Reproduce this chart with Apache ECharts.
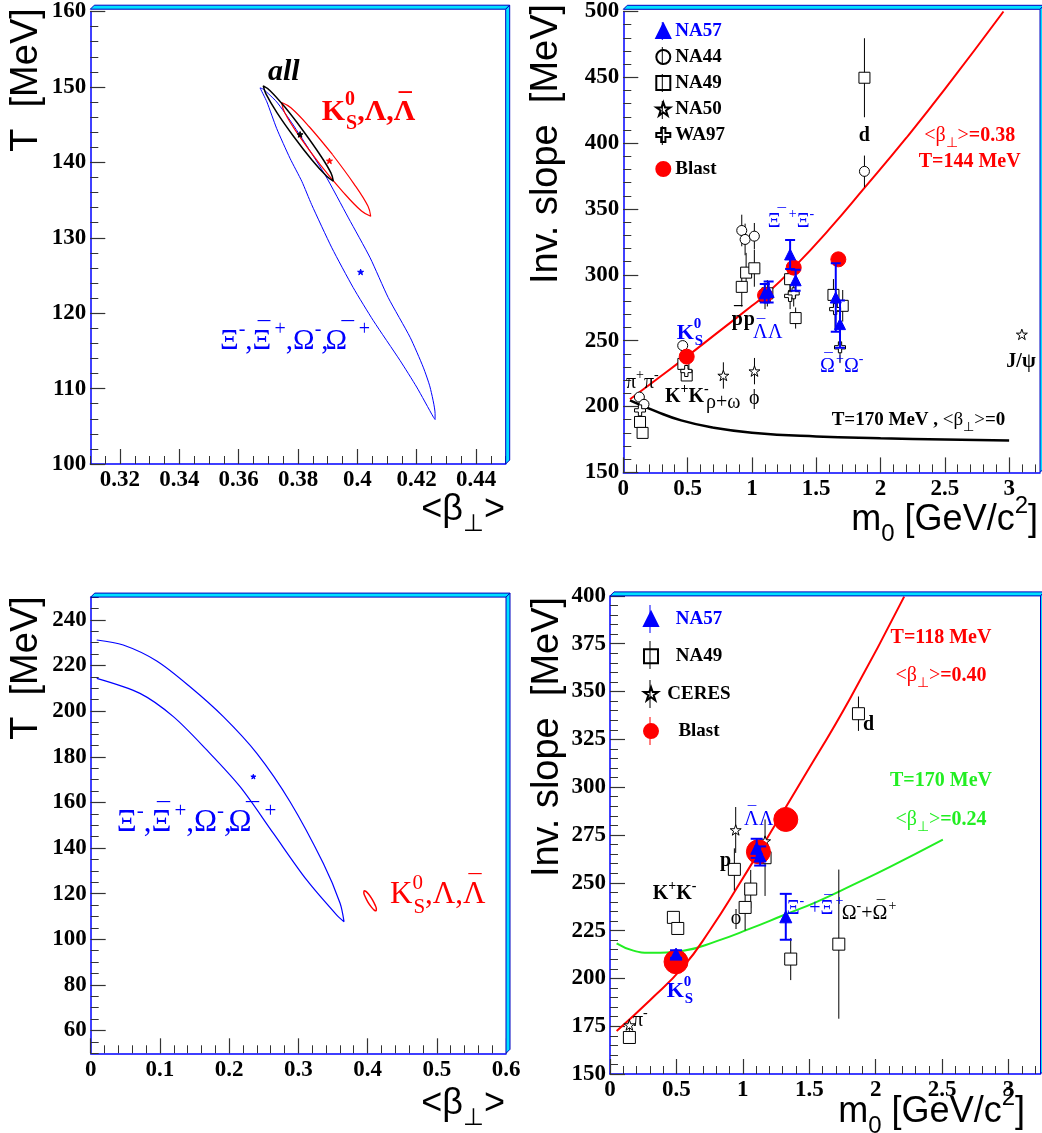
<!DOCTYPE html>
<html><head><meta charset="utf-8">
<script src="https://cdn.jsdelivr.net/npm/echarts@6/dist/echarts.min.js"></script>
<style>html,body{margin:0;padding:0;background:#fff}#c{width:1042px;height:1133px}</style>
</head><body><div id="c"></div>
<script>
// ================= DATA =================
// --- top-left panel: fit contours in (<beta_T>, T) ---
const tlContourAll = [[0.3816,144.26],[0.3755,147.36],[0.3706,149.5],[0.3683,150.13],[0.3692,149.08],[0.3729,146.6],[0.3786,143.4],[0.3847,140.32],[0.3896,138.18],[0.3919,137.5],[0.3911,138.6],[0.3873,141.07],[0.3816,144.26]];
const tlContourV0 = [[0.3916,141.04],[0.3838,144.72],[0.3776,147.24],[0.3745,147.93],[0.3755,146.6],[0.3802,143.6],[0.3874,139.74],[0.3952,136.06],[0.4014,133.54],[0.4045,132.85],[0.4036,134.18],[0.3988,137.18],[0.3916,141.04]];
const tlContourHyp = [[0.3672,149.87],[0.3695,148.02],[0.3728,144.5],[0.3773,140.54],[0.3813,137.47],[0.3846,134.39],[0.3914,128.67],[0.3986,123.39],[0.4054,119.0],[0.4144,113.72],[0.42,110.2],[0.4256,106.24],[0.4262,105.9],[0.4262,106.69],[0.4245,110.2],[0.4222,112.84],[0.4178,116.79],[0.4104,122.07],[0.4043,127.35],[0.397,132.63],[0.3891,138.35],[0.3784,144.95],[0.3728,148.02],[0.3683,149.7],[0.3672,149.87]];
const tlCentreAll = [[0.3807,143.7]];
const tlCentreV0 = [[0.3906,140.2]];
const tlCentreHyp = [[0.4011,125.46]];
// --- bottom-left panel ---
const blContourHyp = [[0.0087,231.2],[0.047,229],[0.0954,222],[0.1435,210.7],[0.1916,197.6],[0.24,181.5],[0.288,160.3],[0.336,133.3],[0.3603,115.8],[0.366,107.7],[0.3555,110.6],[0.312,126],[0.264,146.4],[0.2158,166.9],[0.1676,183],[0.1194,197.6],[0.0712,207.8],[0.0087,214.4]];
const blContourV0 = [[0.4067,117.5],[0.4019,119.6],[0.3976,121.0],[0.3949,121.3],[0.3946,120.4],[0.3966,118.6],[0.4005,116.3],[0.4053,114.2],[0.4096,112.8],[0.4123,112.5],[0.4127,113.3],[0.4106,115.2],[0.4067,117.5]];
const blCentreHyp = [[0.235,171.3]];
// --- top-right panel: [m0, inverse slope, error] ---
const trNA57 = [[1.10,286,7],[1.13,287,8],[1.297,315.5,11],[1.34,295.9,8],[1.652,282.8,26],[1.685,262.6,18]];
const trNA44 = [[0.125,207.2,3],[0.161,201.7,3],[0.462,246.3,3],[0.921,333.7,12],[0.947,326.9,12],[1.019,329.4,10],[1.875,378.6,12]];
const trNA49 = [[0.13,188.3,3],[0.15,180,3],[0.467,232.4,4],[0.493,223.6,4],[0.921,290.9,15],[0.955,301.7,15],[1.019,305,14],[1.102,284,10],[1.12,286,10],[1.297,296.7,10],[1.34,267.2,8],[1.634,284.8,12],[1.706,276.5,12],[1.875,449.7,30]];
const trNA50 = [[0.778,223.6,10],[1.02,226.9,10],[3.099,254.8,0]];
const trWA97 = [[0.13,197.1,3],[0.49,227,4],[1.297,284,10],[1.325,286,10],[1.647,274,15],[1.685,245,12]];
const trBlast = [[0.493,237.9],[1.102,284.5],[1.325,305.5],[1.672,311.8]];
const trFitBlast = [[0.052,205.5],[0.25,220],[0.493,237.9],[0.75,257.5],[1.0,276.5],[1.102,284.5],[1.325,305.5],[1.6,334.5],[1.875,366],[2.2,404],[2.5,441],[2.956,500]];
const trFit170 = [[0.052,204.7],[0.25,196.5],[0.45,189.5],[0.7,184],[1.0,180.2],[1.5,177.3],[2.0,175.9],[2.5,175],[3.0,174.3]];
// --- bottom-right panel ---
const brNA57 = [[0.497,212.7,2],[1.104,268,5],[1.13,264,5],[1.323,232.2,12]];
const brNA49 = [[0.146,169.1,3],[0.477,231.9,0],[0.51,226.1,0],[0.936,257,11],[1.017,237.1,12],[1.059,246.7,10],[1.167,263.1,20],[1.36,210.1,11],[1.722,217.9,39],[1.87,338.4,9]];
const brCERES = [[0.146,175.6,3],[0.946,277.6,12],[1.167,271.8,0]];
const brBlast = [[0.497,208.7],[1.117,266.2],[1.323,283.1]];
const brFitBlast = [[0.05,172.5],[0.301,188.6],[0.552,206.1],[0.753,225.3],[0.979,250],[1.18,273],[1.431,302],[1.807,346.4],[2.214,399.6]];
const brFit170 = [[0.05,218.3],[0.176,214.5],[0.301,213.4],[0.552,214.5],[0.803,219.5],[1.054,226],[1.305,233],[1.556,240],[1.832,249],[2.1,258],[2.505,272.5]];
// --- tick labels ---
const tlXTicks = [0.32,0.34,0.36,0.38,0.40,0.42,0.44];
const tlYTicks = [100,110,120,130,140,150,160];
const trXTicks = [0,0.5,1,1.5,2,2.5,3];
const trYTicks = [150,200,250,300,350,400,450,500];
const blXTicks = [0,0.1,0.2,0.3,0.4,0.5,0.6];
const blYTicks = [60,80,100,120,140,160,180,200,220,240];
const brXTicks = [0,0.5,1,1.5,2,2.5,3];
const brYTicks = [150,175,200,225,250,275,300,325,350,375,400];

// ================= LAYOUT =================
const panels = [
  {grid:{left:90.3, top:9.2, width:415.4, height:454.8}, x:{min:0.31,max:0.45,major:tlXTicks,step:0.005}, y:{min:100,max:160,major:tlYTicks,step:2}},
  {grid:{left:623.3, top:9.3, width:416.7, height:463.1}, x:{min:0,max:3.24,major:trXTicks,step:0.1}, y:{min:150,max:500,major:trYTicks,step:10}},
  {grid:{left:90.7, top:597.1, width:415.3, height:456.2}, x:{min:0,max:0.6,major:blXTicks,step:0.02}, y:{min:50,max:250,major:blYTicks,step:5}},
  {grid:{left:610, top:595.9, width:430.5, height:478.1}, x:{min:0,max:3.24,major:brXTicks,step:0.1}, y:{min:150,max:400,major:brYTicks,step:5}}
];
function minors(a){ const r=[]; const n=Math.round((a.max-a.min)/a.step); for(let i=0;i<=n;i++){ r.push(Math.round((a.min+i*a.step)*1e6)/1e6);} return r; }

const grid=[], xAxis=[], yAxis=[];
const labFont = {fontFamily:'Liberation Serif', fontWeight:'bold', fontSize:23, color:'#000'};
panels.forEach((p,i)=>{
  grid.push(Object.assign({containLabel:false}, p.grid));
  const mk = (a, pos, isX) => ([
    {gridIndex:i, type:'value', min:a.min, max:a.max, position:pos,
     axisLine:{show:true, onZero:false, lineStyle:{color:'#0000ff', width:1.5}},
     axisTick:{show:true, inside:true, length:15, customValues:a.major, lineStyle:{color:'#333', width:1.2}},
     axisLabel:Object.assign({show:true, customValues:a.major, margin:isX?5:4}, labFont),
     splitLine:{show:false}},
    {gridIndex:i, type:'value', min:a.min, max:a.max, position:pos,
     axisLine:{show:false, onZero:false},
     axisTick:{show:true, inside:true, length:8, customValues:minors(a), lineStyle:{color:'#333', width:1}},
     axisLabel:{show:false}, splitLine:{show:false}}
  ]);
  xAxis.push(...mk(p.x,'bottom',true));
  yAxis.push(...mk(p.y,'left',false));
});

// ================= SERIES HELPERS =================
const STAR = 'path://M50,0 L61.8,34.5 L97.6,34.5 L68.5,55.9 L79.4,90.5 L50,69.1 L20.6,90.5 L31.5,55.9 L2.4,34.5 L38.2,34.5 Z';
const CROSS = 'path://M35,0 H65 V35 H100 V65 H65 V100 H35 V65 H0 V35 H35 Z';
function sc(gi, name, data, symbol, size, color, border, z){
  return {type:'scatter', name:name, xAxisIndex:2*gi, yAxisIndex:2*gi, data:data.map(d=>[d[0],d[1]]),
    symbol:symbol, symbolSize:size, symbolKeepAspect:true, silent:true, clip:true, z:z||5,
    itemStyle:{color:color, borderColor:border||color, borderWidth:1, opacity:1}};
}
function ln(gi, data, color, width, smooth, z){
  return {type:'line', xAxisIndex:2*gi, yAxisIndex:2*gi, data:data, showSymbol:false, symbol:'none',
    smooth:smooth, lineStyle:{color:color, width:width}, silent:true, clip:true, z:z||3};
}
function eb(gi, data, color, width, cap, z){
  return {type:'custom', xAxisIndex:2*gi, yAxisIndex:2*gi, silent:true, clip:true, z:z||4,
    data:data.filter(d=>d[2]>0).map(d=>[d[0], d[1]-d[2], d[1]+d[2]]),
    renderItem:function(params, api){
      const a = api.coord([api.value(0), api.value(1)]), b = api.coord([api.value(0), api.value(2)]);
      const st = {stroke:color, lineWidth:width};
      const ch = [{type:'line', shape:{x1:a[0],y1:a[1],x2:b[0],y2:b[1]}, style:st}];
      if(cap){
        ch.push({type:'line', shape:{x1:a[0]-cap,y1:a[1],x2:a[0]+cap,y2:a[1]}, style:st});
        ch.push({type:'line', shape:{x1:b[0]-cap,y1:b[1],x2:b[0]+cap,y2:b[1]}, style:st});
      }
      return {type:'group', children:ch};
    }};
}

const BLUE='#0000ff', RED='#ff0000', GREEN='#22ee22';
const series = [
  ln(0, tlContourHyp, BLUE, 1, 0.2, 3),
  ln(0, tlContourV0, RED, 1.2, 0.4, 3),
  ln(0, tlContourAll, '#000', 1.5, 0.4, 4),
  sc(0, 'cAll', tlCentreAll, STAR, 6, '#000'),
  sc(0, 'cV0', tlCentreV0, STAR, 6, RED),
  sc(0, 'cHyp', tlCentreHyp, STAR, 6, BLUE),
  ln(1, trFit170, '#000', 2.5, true, 3),
  ln(1, trFitBlast, RED, 2, true, 3),
  eb(1, trNA44, '#000', 1, 0, 4), eb(1, trNA49, '#000', 1, 0, 4), eb(1, trNA50, '#000', 1, 0, 4), eb(1, trWA97, '#000', 1, 0, 4),
  sc(1, 'NA44', trNA44, 'circle', 10, '#fff', '#000', 5),
  sc(1, 'NA49', trNA49, 'rect', 11, '#fff', '#000', 5),
  sc(1, 'NA50', trNA50, STAR, 11, '#fff', '#000', 5),
  sc(1, 'WA97', trWA97, CROSS, 11, '#fff', '#000', 5),
  sc(1, 'Blast', trBlast, 'circle', 15, RED, RED, 6),
  eb(1, trNA57, BLUE, 2, 5, 7),
  sc(1, 'NA57', trNA57, 'triangle', 11, BLUE, BLUE, 8),
  ln(2, blContourHyp, BLUE, 1.2, 0.3, 3),
  ln(2, blContourV0, RED, 1.5, 0.4, 3),
  sc(2, 'cHyp2', blCentreHyp, STAR, 5, BLUE),
  ln(3, brFit170, GREEN, 2, true, 3),
  ln(3, brFitBlast, RED, 2, true, 3),
  eb(3, brNA49, '#000', 1, 0, 4), eb(3, brCERES, '#000', 1, 0, 4),
  sc(3, 'NA49', brNA49, 'rect', 12, '#fff', '#000', 5),
  sc(3, 'CERES', brCERES, STAR, 11, '#fff', '#000', 5),
  sc(3, 'Blast', brBlast, 'circle', 24, RED, RED, 6),
  eb(3, brNA57, BLUE, 2, 6, 7),
  sc(3, 'NA57', brNA57, 'triangle', 12, BLUE, BLUE, 8)
];

// ================= TEXT / DECORATION =================
function RS(size, color, weight, style, family){
  family = family || 'Liberation Serif';
  const b = {fill:color, fontFamily:family, fontWeight:weight||'normal', fontStyle:style||'normal'};
  const nb = Object.assign({}, b, {fontWeight:'normal'});
  const s = Math.round(size*0.68);
  const LH = Math.round(size*1.45);
  const ob = (w) => Object.assign({}, b, {fontSize:Math.round(size*0.85), lineHeight:Math.round(size*0.83), verticalAlign:'top', width:Math.round(size*w), align:'center'});
  return {
    m:Object.assign({}, b, {fontSize:size, lineHeight:LH}),
    n:Object.assign({}, nb, {fontSize:size, lineHeight:LH}),
    L:Object.assign({}, b, {fontSize:size, lineHeight:LH, width:1}),
    u:Object.assign({}, b, {fontSize:s, lineHeight:s, verticalAlign:'top'}),
    d:Object.assign({}, b, {fontSize:s, lineHeight:s, verticalAlign:'bottom'}),
    dn:Object.assign({}, nb, {fontSize:s, lineHeight:s, verticalAlign:'bottom'}),
    z:Object.assign({}, b, {fontSize:s, lineHeight:s, verticalAlign:'top', width:1}),
    oA:ob(0.71), oW:ob(0.76), oP:ob(0.54)
  };
}
function label(x, y, text, rich, align, rot){
  return {type:'text', x:x, y:y, rotation:rot||0, silent:true, z:100,
    style:{text:text, rich:rich, align:align||'left', verticalAlign:'middle'}};
}
function vline(x, y1, y2, c){ return {type:'line', silent:true, z:90, shape:{x1:x,y1:y1,x2:x,y2:y2}, style:{stroke:c, lineWidth:1}}; }
const SANSY = RS(38, '#000', 'normal', 'normal', 'Liberation Sans');
const SANSX = RS(36, '#000', 'normal', 'normal', 'Liberation Sans');
const R90 = Math.PI/2;
const graphics = [];
panels.forEach(p=>{
  const g=p.grid, L=g.left, T=g.top, R=g.left+g.width, B=g.top+g.height, d=4;
  const st = {fill:'#00e0ff', stroke:'#0000c0', lineWidth:1};
  graphics.push({type:'polygon', silent:true, z:50, shape:{points:[[L,T],[L+d,T-d],[R+d,T-d],[R,T]]}, style:st});
  graphics.push({type:'polygon', silent:true, z:50, shape:{points:[[R,T],[R+d,T-d],[R+d,B-d],[R,B]]}, style:st});
});
graphics.push(
  vline(662.3, 22, 40, BLUE), vline(662.3, 47, 65, '#000'), vline(662.3, 74, 92, '#000'), vline(662.3, 101, 119, '#000'), vline(662.3, 126, 145, '#000'),
  vline(650, 605, 633, BLUE), vline(650, 641, 669, '#000'), vline(650, 680, 708, '#000'), vline(650, 717, 745, RED),
  label(26.7, 80, '{m|T  [MeV]}', SANSY, 'center', R90),
  label(505, 510, '{m|<β}{d|⊥}{m|>}', SANSX, 'right'),
  label(546.7, 144, '{m|Inv. slope  [MeV]}', SANSY, 'center', R90),
  label(1038, 520, '{m|m}{d|0}{m| [GeV/c}{u|2}{m|]}', SANSX, 'right'),
  label(26.7, 668, '{m|T  [MeV]}', SANSY, 'center', R90),
  label(505, 1104, '{m|<β}{d|⊥}{m|>}', SANSX, 'right'),
  label(548, 737, '{m|Inv. slope  [MeV]}', SANSY, 'center', R90),
  label(1025, 1112, '{m|m}{d|0}{m| [GeV/c}{u|2}{m|]}', SANSX, 'right'),
  label(268, 72, '{m|all}', RS(30,'#000','bold','italic')),
  label(321.7, 112, '{m|K}{z|0}{d|S}{m|,Λ,}{L|Λ}{oA|¯}', RS(30,RED,'bold')),
  label(220, 341, '{m|Ξ}{u|-}{m|,}{L|Ξ}{oA|¯}{u|+}{m|,Ω}{u|-}{m|, }{L|Ω}{oW|¯}{u|+}', RS(29,BLUE,'normal')),
  label(864.3, 136, '{m|d}', RS(20,'#000','bold'), 'center'),
  label(969.7, 136, '{n|<β}{dn|⊥}{n|>}{m|=0.38}', RS(20,RED,'bold'), 'center'),
  label(969.7, 162, '{m|T=144 MeV}', RS(20,RED,'bold'), 'center'),
  label(794, 222, '{L|Ξ}{oA|¯}{u|+}{m|Ξ}{u|-}', RS(20,BLUE,'normal'), 'center'),
  label(676.7, 333, '{m|K}{z|0}{d|S}', RS(22,BLUE,'bold')),
  label(731.7, 320, '{L|p}{oP|¯}{m|p}', RS(20,'#000','bold')),
  label(753, 333, '{L|Λ}{oA|¯}{m|Λ}', RS(20,BLUE,'normal')),
  label(820, 367, '{L|Ω}{oW|¯}{u|+}{m|Ω}{u|-}', RS(20,BLUE,'normal')),
  label(1021, 362, '{m|J/ψ}', RS(20,'#000','bold'), 'center'),
  label(626, 383, '{m|π}{u|+}{m|π}{u|-}', RS(20,'#000','normal')),
  label(665, 397, '{m|K}{u|+}{m|K}{u|-}', RS(20,'#000','bold')),
  label(706, 403, '{m|ρ+ω}', RS(20,'#000','normal')),
  label(754.3, 399, '{m|ϕ}', RS(20,'#000','normal'), 'center'),
  label(831.7, 420, '{m|T=170 MeV , }{n|<β}{dn|⊥}{n|>}{m|=0}', RS(19,'#000','bold')),
  label(116.7, 823, '{m|Ξ}{u|-}{m|,}{L|Ξ}{oA|¯}{u|+}{m|,Ω}{u|-}{m|, }{L|Ω}{oW|¯}{u|+}', RS(31,BLUE,'normal')),
  label(390, 895, '{m|K}{z|0}{d|S}{m|,Λ,}{L|Λ}{oA|¯}', RS(31,RED,'normal')),
  label(941, 638, '{m|T=118 MeV}', RS(20,RED,'bold'), 'center'),
  label(941, 676, '{n|<β}{dn|⊥}{n|>}{m|=0.40}', RS(20,RED,'bold'), 'center'),
  label(941, 781, '{m|T=170 MeV}', RS(20,GREEN,'bold'), 'center'),
  label(941, 820, '{n|<β}{dn|⊥}{n|>}{m|=0.24}', RS(20,GREEN,'bold'), 'center'),
  label(863, 725, '{m|d}', RS(20,'#000','bold')),
  label(744, 820, '{L|Λ}{oA|¯}{m|Λ}', RS(20,BLUE,'normal')),
  label(720, 861, '{m|p}', RS(20,'#000','bold')),
  label(652.7, 894, '{m|K}{u|+}{m|K}{u|-}', RS(20,'#000','bold')),
  label(736, 919, '{m|ϕ}', RS(20,'#000','normal'), 'center'),
  label(786.7, 909, '{m|Ξ}{u|-}{m| +}{L|Ξ}{oA|¯}{u|+}', RS(20,BLUE,'normal')),
  label(841.7, 914, '{m|Ω}{u|-}{m|+}{L|Ω}{oW|¯}{u|+}', RS(20,'#000','normal')),
  label(666.7, 991, '{m|K}{z|0}{d|S}', RS(22,BLUE,'bold')),
  label(633, 1021, '{m|π}{u|-}', RS(20,'#000','normal'))
);

const legTxt = {fontFamily:'Liberation Serif', fontWeight:'bold', fontSize:19, color:'#000'};
const legBase = {orient:'vertical', itemWidth:14, itemHeight:14, selectedMode:false, textStyle:legTxt};
const option = {
  animation:false, backgroundColor:'#fff',
  grid:grid, xAxis:xAxis, yAxis:yAxis, series:series, graphic:graphics,
  legend:[
    Object.assign({left:650.3, top:16.5, itemGap:7,
      data:[{name:'NA57', textStyle:{color:BLUE}},'NA44','NA49','NA50','WA97']}, legBase),
    Object.assign({left:650.3, top:154.5, itemGap:7, data:['Blast']}, legBase),
    Object.assign({left:638, top:604.4, itemGap:18.4, formatter:'{c|{name}}',
      data:[{name:'NA57', textStyle:{color:BLUE}},'NA49','CERES','Blast']}, legBase,
      {textStyle:Object.assign({rich:{c:{width:72, align:'center', fontFamily:'Liberation Serif', fontWeight:'bold', fontSize:19}}}, legTxt)})
  ]
};
const chart = echarts.init(document.getElementById('c'), null, {renderer:'canvas'});
chart.setOption(option);
</script>
</body></html>
